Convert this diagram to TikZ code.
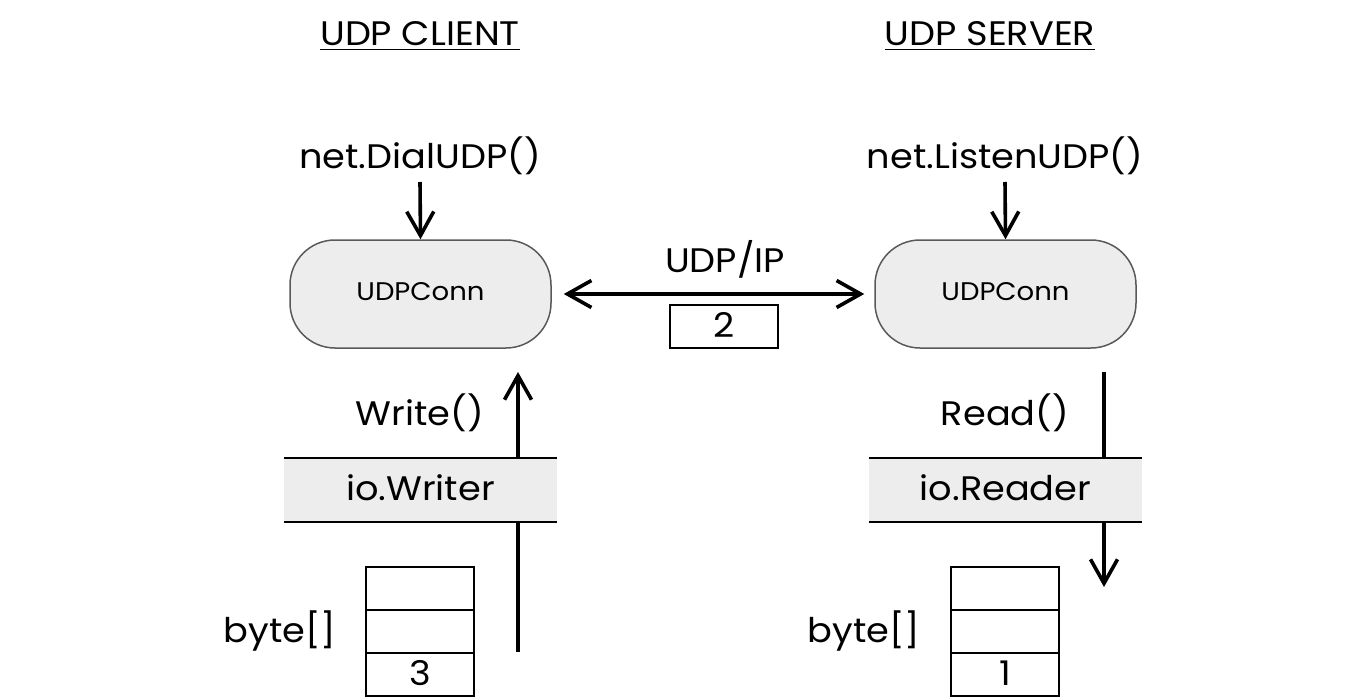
\documentclass[tikz,border=0pt]{standalone}
\usepackage{fontspec}
\setmainfont{Poppins}[FakeStretch=1.08]
\usetikzlibrary{arrows.meta}
\begin{document}
\begin{tikzpicture}[x=1pt,y=-1pt,
  lab/.style={font=\fontsize{34}{40}\selectfont, inner sep=0pt, anchor=base},
  conn/.style={draw=black!65, line width=1.5pt, fill=black!7, rounded corners=45pt,
    minimum width=261pt, minimum height=108pt, inner sep=0pt},
  cfont/.style={font=\fontsize{25.5}{30}\selectfont, inner sep=0pt, anchor=base},
  band/.style={fill=black!7, minimum width=273pt, minimum height=64pt, inner sep=0pt},
  cell/.style={draw, line width=1.5pt, minimum width=108pt, minimum height=43pt, inner sep=0pt},
  tip/.tip={Straight Barb[length=24pt,width=27pt,line width=3.6pt]},
  arr/.style={line width=3.6pt, -tip}]
\useasboundingbox (0,0) rectangle (1372,698);
% titles
\node[lab] (tc) at (420,46) {UDP CLIENT};
\node[lab] (ts) at (990,46) {UDP SERVER};
\draw[line width=1.8pt] ([yshift=-3.5pt]tc.base west) -- ([yshift=-3.5pt]tc.base east);
\draw[line width=1.8pt] ([yshift=-3.5pt]ts.base west) -- ([yshift=-3.5pt]ts.base east);
% constructors
\node[lab] (dial) at (420,168) {net.DialUDP()};
\node[lab] (listen) at (1005,168) {net.ListenUDP()};
% connections
\node[conn] (cl) at (420.5,294) {};
\node[conn] (cr) at (1005.5,294) {};
\node[cfont] (cltx) at (420.5,300) {UDPConn};
\node[cfont] (crtx) at (1005.5,300) {UDPConn};
\coordinate (d1) at (420,182);
\coordinate (l1) at (1005,182);
\draw[arr] (d1) -- (cl.north);
\draw[arr] (l1) -- (cr.north);
% UDP/IP link
\draw[line width=3.6pt, tip-tip, shorten <=12pt, shorten >=10pt] (cl.east) -- (cr.west);
\node[lab] (udpip) at (725,272) {UDP/IP};
\node[cell] (p2) at (724,326.5) {};
\node[lab] (p2tx) at (724,337) {2};
% client write
\coordinate (wbot) at (518,652);
\coordinate (wtop) at (518,372);
\draw[arr] (wbot) -- (wtop);
\node[lab] (write) at (420,425) {Write()};
\node[band] (wr) at (420.5,490) {};
\node[lab] (wrtx) at (420.5,500) {io.Writer};
\draw[line width=1.5pt] (wr.north west) -- (wr.north east) (wr.south west) -- (wr.south east);
\node[cell] (c1) at (420,588.5) {};
\node[cell] (c2) at (420,631.5) {};
\node[cell] (c3) at (420,674.5) {};
\node[lab] (c3tx) at (420,685) {3};
\node[lab] (bl) at (280,642) {byte[]};
% server read
\coordinate (rtop) at (1104,372);
\coordinate (rbot) at (1104,587);
\draw[arr] (rtop) -- (rbot);
\node[lab] (read) at (1005,425) {Read()};
\node[band] (rd) at (1005.5,490) {};
\node[lab] (rdtx) at (1005.5,500) {io.Reader};
\draw[line width=1.5pt] (rd.north west) -- (rd.north east) (rd.south west) -- (rd.south east);
\node[cell] (s1) at (1005,588.5) {};
\node[cell] (s2) at (1005,631.5) {};
\node[cell] (s3) at (1005,674.5) {};
\node[lab] (s3tx) at (1005,685) {1};
\node[lab] (br) at (864,642) {byte[]};
\end{tikzpicture}
\end{document}
